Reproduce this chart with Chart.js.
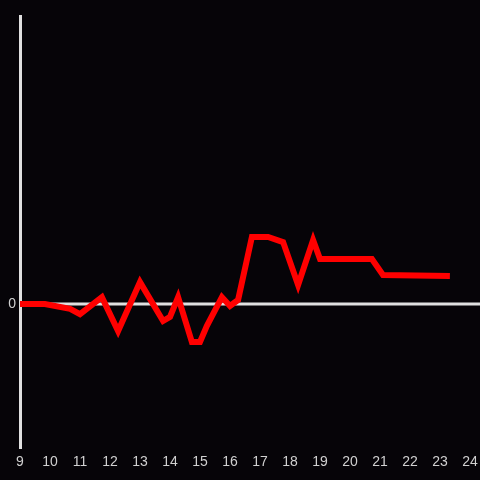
<!DOCTYPE html>
<html>
<head>
<meta charset="utf-8">
<script src="https://cdn.jsdelivr.net/npm/chart.js@4/dist/chart.umd.min.js"></script>
<style>
  html, body { margin: 0; padding: 0; background: #060408; }
  #wrap { width: 480px; height: 480px; position: relative; }
</style>
</head>
<body>
<div id="wrap"><canvas id="c"></canvas></div>
<script>
// hours of the day and the value read at each one
const hours = [9.0, 9.83, 10.67, 11.0, 11.73, 12.27, 13.0, 13.77, 14.0, 14.27, 14.73, 15.0, 15.23,
  15.73, 16.0, 16.27, 16.73, 17.27, 17.77, 18.27, 18.77, 19.0, 20.73, 21.1, 23.33];
const values = [0, 0, -0.17, -0.35, 0.24, -0.94, 0.76, -0.59, -0.45, 0.24, -1.32, -1.32, -0.76,
  0.24, -0.07, 0.14, 2.33, 2.33, 2.15, 0.66, 2.22, 1.56, 1.56, 1.01, 0.97];
const yTicks = [0];

const axisColor = '#e0e0e0';
const textColor = '#d0d0d0';

// zero line runs past the plot area to the canvas edge
const zeroLine = {
  id: 'zeroLine',
  beforeDatasetsDraw: function(chart) {
    const y = chart.scales.y.getPixelForValue(0);
    const ctx = chart.ctx;
    ctx.save();
    ctx.strokeStyle = axisColor;
    ctx.lineWidth = 3;
    ctx.beginPath();
    ctx.moveTo(chart.chartArea.left, y);
    ctx.lineTo(chart.width, y);
    ctx.stroke();
    ctx.restore();
  }
};

new Chart(document.getElementById('c'), {
  type: 'line',
  data: {
    datasets: [{
      data: hours.map((h, i) => ({ x: h, y: values[i] })),
      borderColor: '#ff0000',
      borderWidth: 6,
      borderJoinStyle: 'miter',
      pointRadius: 0,
      tension: 0,
      fill: false
    }]
  },
  options: {
    responsive: true,
    maintainAspectRatio: false,
    animation: false,
    layout: { padding: { top: 16, right: 10, left: 0, bottom: 0 } },
    plugins: { legend: { display: false }, tooltip: { enabled: false } },
    scales: {
      x: {
        type: 'linear',
        min: 9,
        max: 24,
        ticks: { stepSize: 1, color: textColor, font: { family: 'Liberation Sans, Arial, sans-serif', size: 14 }, padding: 6, maxRotation: 0, autoSkip: false },
        grid: { display: false, drawTicks: false },
        border: { display: false },
        afterFit: function(scale) {
          scale.height = 32;
          scale.paddingLeft = 0;
          scale.paddingRight = 0;
        }
      },
      y: {
        min: -5,
        max: 10,
        afterBuildTicks: function(scale) { scale.ticks = yTicks.map(v => ({ value: v })); },
        ticks: { color: textColor, font: { family: 'Liberation Sans, Arial, sans-serif', size: 14 }, padding: 4 },
        grid: { display: false, drawTicks: false },
        border: { display: true, color: axisColor, width: 3 },
        afterFit: function(scale) { scale.width = 20; }
      }
    }
  },
  plugins: [zeroLine]
});
</script>
</body>
</html>
